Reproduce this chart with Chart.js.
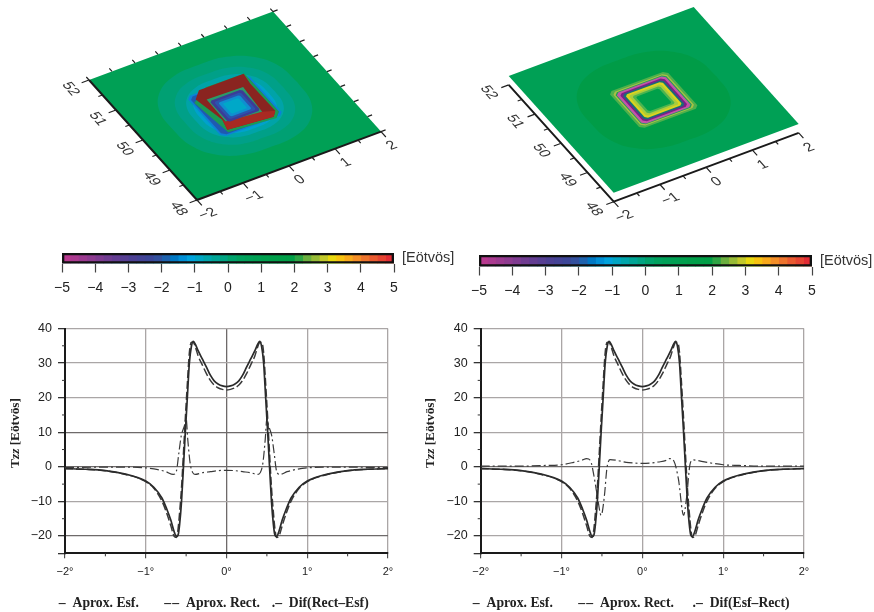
<!DOCTYPE html>
<html>
<head>
<meta charset="utf-8">
<style>
  html, body { margin: 0; padding: 0; background: #fff; }
  body { position: relative; width: 874px; height: 612px; overflow: hidden; }
  .box { position: absolute; }
  .box canvas { filter: blur(0.45px); }
</style>
<script src="https://cdn.jsdelivr.net/npm/chart.js@4"></script>
</head>
<body>
<div class="box" style="left:0;top:0;width:437px;height:240px"><canvas id="surfaceLeft"></canvas></div>
<div class="box" style="left:437px;top:0;width:437px;height:240px"><canvas id="surfaceRight"></canvas></div>
<div class="box" style="left:0;top:240px;width:470px;height:60px"><canvas id="barLeft"></canvas></div>
<div class="box" style="left:437px;top:243px;width:437px;height:60px"><canvas id="barRight"></canvas></div>
<div class="box" style="left:0;top:315px;width:430px;height:297px"><canvas id="lineLeft"></canvas></div>
<div class="box" style="left:416px;top:315px;width:458px;height:297px"><canvas id="lineRight"></canvas></div>
<script>
// profile curves
const profileLon = [-2, -1.75, -1.5, -1.25, -1.1, -1, -0.9, -0.8, -0.74, -0.69, -0.65, -0.62, -0.6, -0.58, -0.557, -0.533, -0.51, -0.485, -0.46, -0.435, -0.41, -0.385, -0.35, -0.3, -0.25, -0.2, -0.15, -0.1, -0.05, 0,
  0.05, 0.1, 0.15, 0.2, 0.25, 0.3, 0.35, 0.385, 0.41, 0.435, 0.46, 0.485, 0.51, 0.533, 0.557, 0.58, 0.6, 0.62, 0.65, 0.69, 0.74, 0.8, 0.9, 1, 1.1, 1.25, 1.5, 1.75, 2];
const aproxEsf = [-0.5, -0.7, -1.1, -2.1, -3.1, -4.1, -5.9, -9, -12.2, -15.4, -18.6, -20.2, -19.8, -16.5, -10, 0, 10, 20, 30, 34.8, 36.3, 35.4, 33.5, 31.2, 28.9, 26.5, 24.8, 23.9, 23.4, 23.2,
  23.4, 23.9, 24.8, 26.5, 28.9, 31.2, 33.5, 35.4, 36.3, 34.8, 30, 20, 10, 0, -10, -16.5, -19.8, -20.2, -18.6, -15.4, -12.2, -9, -5.9, -4.1, -3.1, -2.1, -1.1, -0.7, -0.5];
const aproxRect = [-0.5, -0.7, -1.1, -2.2, -3.2, -4.3, -6.2, -9.9, -13.4, -17, -20, -20.4, -18, -13, -6, 4, 14, 24, 33, 36, 35.9, 34.6, 32, 29.5, 27, 25, 23.6, 22.8, 22.4, 22.2,
  22.4, 22.8, 23.6, 25, 27, 29.5, 32, 34.6, 35.9, 36, 33, 24, 14, 4, -6, -13, -18, -20.4, -20, -17, -13.4, -9.9, -6.2, -4.3, -3.2, -2.2, -1.1, -0.7, -0.5];
const difLeftLon = [-2, -1.5, -1.2, -1, -0.85, -0.75, -0.66, -0.62, -0.59, -0.56, -0.52, -0.5, -0.48, -0.45, -0.42, -0.39, -0.3, -0.2, -0.1, 0,
  0.1, 0.2, 0.3, 0.39, 0.42, 0.45, 0.48, 0.5, 0.52, 0.56, 0.59, 0.62, 0.66, 0.75, 0.85, 1, 1.2, 1.5, 2];
const difRectEsf = [-0.2, -0.1, -0.1, -0.3, -0.8, -1.4, -2.2, -1.2, 4, 9, 12, 14, 8, 1, -1.6, -2.2, -1.7, -1.4, -1.1, -1,
  -1.1, -1.4, -1.7, -2.2, -1.6, 1, 8, 14, 12, 9, 4, -1.2, -2.2, -1.4, -0.8, -0.3, -0.1, -0.1, -0.2];
const difRightLon = [-2, -1.5, -1.2, -1, -0.85, -0.75, -0.69, -0.64, -0.6, -0.56, -0.51, -0.47, -0.44, -0.42, -0.4, -0.3, -0.2, -0.1, 0,
  0.1, 0.2, 0.3, 0.34, 0.39, 0.446, 0.51, 0.55, 0.59, 0.63, 0.75, 1, 1.2, 1.5, 2];
const difEsfRect = [0.2, 0.2, 0.4, 0.6, 1.3, 1.9, 2.4, 1.7, -2.5, -8, -14, -8.5, -0.7, 1.5, 2.1, 1.8, 1.3, 1.1, 1,
  1.1, 1.4, 1.9, 2.4, 1.7, -3.5, -14, -8.3, 0.8, 2, 1.5, 0.6, 0.4, 0.2, 0.2];

const legendLeft = ['–  Aprox. Esf.    ', '–\u200a–  Aprox. Rect.', '.–  Dif(Rect–Esf)'];
const legendRight = ['–  Aprox. Esf.    ', '–\u200a–  Aprox. Rect.  ', '.–  Dif(Esf–Rect)'];

// colour scale
const scaleEdges = [-5, -4.75, -4.5, -4.25, -4, -3.75, -3.5, -3.25, -3, -2.75, -2.5, -2.25, -2, -1.75, -1.5, -1.25, -1, -0.75, -0.5, -0.25, 0, 0.25, 0.5, 0.75, 1, 1.25, 1.5, 1.75, 2, 2.25, 2.5, 2.75, 3, 3.25, 3.5, 3.75, 4, 4.25, 4.5, 4.75, 5];
const scaleColors = ['#b8398f', '#ab3a90', '#9c3a90', '#8e3b90', '#7f3b91', '#703c91', '#633d92', '#573f93', '#4c4094', '#444396', '#3c4698', '#33509e', '#1e62ae', '#0078c4', '#008fd6', '#00a3dc', '#00a6c4', '#00a6ac', '#00a596', '#00a482',
  '#00a36c', '#00a25e', '#00a158', '#00a053', '#00a04e', '#009f4a', '#009f48', '#009f46', '#2da544', '#6aaf3e', '#97bb36', '#c2c92a', '#e8d80e', '#f7c30f', '#f9a91a', '#f48e26', '#ee742d', '#ea5a30', '#e64432', '#e32c35'];

// plan view contours, half widths in degrees around the block centre
const contourShape = [[1, 0], [0.96, 0.42], [0.76, 0.76], [0.42, 0.96], [0, 1], [-0.42, 0.96], [-0.76, 0.76], [-0.96, 0.42], [-1, 0], [-0.96, -0.42], [-0.76, -0.76], [-0.42, -0.96], [0, -1], [0.42, -0.96], [0.76, -0.76], [0.96, -0.42], [1, 0]];
const squareShape = [[1, -0.88], [1, 0.88], [0.88, 1], [-0.88, 1], [-1, 0.88], [-1, -0.88], [-0.88, -1], [0.88, -1], [1, -0.88]];
const leftContourWidths = [1.36, 1.06, 0.86, 0.74];
const leftContourColors = ['#00a073', '#00a088', '#00a3a8', '#00a2cc'];
const leftHaloWidths = [0.67, 0.63];
const leftHaloColors = ['#0d82d6', '#1f5ab0'];
const leftInnerWidths = [0.35, 0.29, 0.23, 0.17];
const leftInnerColors = ['#3c3c96', '#2a54ae', '#0f8fd0', '#00a8c8'];
const rightContourWidths = [1.36];
const rightContourColors = ['#009c47'];
const rightRingWidths = [0.63, 0.58, 0.55, 0.53, 0.48, 0.44, 0.4, 0.35, 0.3, 0.25];
const rightRingColors = ['#4fb04c', '#a9c044', '#1c9e58', '#c354a8', '#7a1f88', '#176f74', '#dcd41e', '#a9cc3c', '#4cb450', '#00a04a'];

// block outline in degrees from the centre, with the wall heights folded in
const wallOutLon = [-0.36, 0.611, 0.573, 0.585, 0.47, -0.478, -0.412, -0.55, -0.36];
const wallOutLat = [0.723, 0.721, 0.407, -0.497, -0.632, -0.53, -0.232, 0.52, 0.723];
const wallFrontLon = [-0.384, 0.356, 0.585, 0.47, -0.478, -0.412, -0.384];
const wallFrontLat = [-0.305, -0.398, -0.497, -0.632, -0.53, -0.232, -0.305];
const holeLon = [-0.372, 0.407, 0.356, -0.384, -0.372];
const holeLat = [0.418, 0.393, -0.398, -0.305, 0.418];
const rimLon = [-0.62, -0.2, 0.63, 0.63, 0.5, -0.5, -0.62];
const rimLat = [0.45, 0.74, 0.72, -0.55, -0.69, -0.6, 0.45];

const lonTicks = [-2, -1.5, -1, -0.5, 0, 0.5, 1, 1.5, 2];
const latTicks = [48, 48.5, 49, 49.5, 50, 50.5, 51, 51.5, 52];
const lonLabels = ['−2', '−1', '0', '1', '2'];
const latLabels = ['48', '49', '50', '51', '52'];

const yTicksMinor = [35, 25, 15, 5, -5, -15];
const xTicksMinor = [-1.5, -0.5, 0.5, 1.5];

Chart.defaults.font.family = '"Liberation Sans", Arial, sans-serif';
Chart.defaults.animation = false;
Chart.defaults.events = [];
Chart.defaults.plugins.tooltip.enabled = false;

// oblique view of the map: canvas position of the corner (-2, 48) and of one degree along each axis
const leftView = { cornerX: 197, cornerY: 200, lonX: 46, lonY: -17.1, latX: -27, latY: -30, plateLift: 0, backTicks: true, latLabelLon: -2.4, latLabelLift: -2, lonLabelLift: -2 };
const rightView = { cornerX: 176.7, cornerY: 201.7, lonX: 46.25, lonY: -17.2, latX: -26.25, latY: -29.2, plateLift: 9, backTicks: false, latLabelLon: -2.43, latLabelLift: 0, lonLabelLift: -3 };

function project(view, lon, lat, lift) {
  return {
    x: view.cornerX + (lon + 2) * view.lonX + (lat - 48) * view.latX,
    y: view.cornerY + (lon + 2) * view.lonY + (lat - 48) * view.latY - (lift || 0)
  };
}

function shapeDataset(view, shape, width, color, smooth) {
  return {
    data: shape.map(p => project(view, p[0] * width, 50 + p[1] * width, view.plateLift)),
    showLine: true, fill: 'shape', backgroundColor: color, borderWidth: 0, pointRadius: 0, tension: smooth ? 0.4 : 0
  };
}

function outlineDataset(view, lons, lats, color) {
  return {
    data: lons.map((lon, i) => project(view, lon, 50 + lats[i], view.plateLift)),
    showLine: true, fill: 'shape', backgroundColor: color, borderWidth: 0, pointRadius: 0, tension: 0
  };
}

function tickDataset(view) {
  const pts = [];
  const gap = { x: NaN, y: NaN };
  latTicks.forEach(lat => {
    const long = lat % 1 === 0;
    pts.push(project(view, -2, lat), project(view, -2 - (long ? 0.16 : 0.09), lat), gap);
    if (view.backTicks) pts.push(project(view, 2, lat), project(view, 2.1, lat), gap);
  });
  lonTicks.forEach(lon => {
    const long = lon % 1 === 0;
    pts.push(project(view, lon, 48), project(view, lon, 48 - (long ? 0.18 : 0.1)), gap);
    if (view.backTicks) pts.push(project(view, lon, 52), project(view, lon, 52.1), gap);
  });
  return { data: pts, showLine: true, borderColor: '#222', borderWidth: 1.2, pointRadius: 0, fill: false, tension: 0 };
}

function axisDataset(view) {
  return {
    data: [project(view, -2, 52), project(view, -2, 48), project(view, 2, 48)],
    showLine: true, borderColor: '#1a1a1a', borderWidth: 2, pointRadius: 0, fill: false, tension: 0
  };
}

// numbers along the map edges, sheared the same way as the map
const edgeLabelPlugin = {
  id: 'edgeLabels',
  afterDraw(chart, args, opts) {
    const view = opts.view;
    const ctx = chart.ctx;
    const lonLen = Math.hypot(view.lonX, view.lonY);
    const latLen = Math.hypot(view.latX, view.latY);
    const ux = view.lonX / lonLen, uy = view.lonY / lonLen;
    const vx = -view.latX / latLen, vy = -view.latY / latLen;
    ctx.save();
    ctx.fillStyle = '#333';
    ctx.font = '14.5px "Liberation Sans"';
    ctx.textAlign = 'center';
    ctx.textBaseline = 'middle';
    latLabels.forEach((text, i) => {
      const p = project(view, view.latLabelLon, 48 + i, view.latLabelLift);
      ctx.setTransform(vx, vy, -ux, -uy, p.x, p.y);
      ctx.fillText(text, 0, 0);
    });
    lonLabels.forEach((text, i) => {
      const p = project(view, -2 + i, 47.6, view.lonLabelLift);
      ctx.setTransform(ux, uy, vx, vy, p.x, p.y);
      ctx.fillText(text, 0, 0);
    });
    ctx.restore();
  }
};

function surfaceChart(id, view, layers) {
  // first dataset is drawn last, so hand them over back to front with a falling order
  layers.forEach((d, i) => { d.order = layers.length - i; d.clip = false; });
  new Chart(document.getElementById(id), {
    type: 'scatter',
    data: { datasets: layers },
    plugins: [edgeLabelPlugin],
    options: {
      responsive: true,
      maintainAspectRatio: false,
      layout: { padding: 0 },
      scales: {
        x: { type: 'linear', display: false, min: 0, max: 437 },
        y: { type: 'linear', display: false, min: 0, max: 240, reverse: true }
      },
      plugins: { legend: { display: false }, edgeLabels: { view: view } }
    }
  });
}

function plateDataset(view) {
  const lift = view.plateLift;
  return {
    data: [project(view, -2, 48, lift), project(view, 2, 48, lift), project(view, 2, 52, lift), project(view, -2, 52, lift), project(view, -2, 48, lift)],
    showLine: true, fill: 'shape', backgroundColor: '#00a055', borderWidth: 0, pointRadius: 0, tension: 0
  };
}

surfaceChart('surfaceLeft', leftView, [
  plateDataset(leftView),
  ...leftContourWidths.map((w, i) => shapeDataset(leftView, contourShape, w, leftContourColors[i], true)),
  ...leftHaloWidths.map((w, i) => shapeDataset(leftView, squareShape, w, leftHaloColors[i], false)),
  outlineDataset(leftView, rimLon, rimLat, '#1b9a55'),
  outlineDataset(leftView, wallOutLon, wallOutLat, '#8a2420'),
  outlineDataset(leftView, wallFrontLon, wallFrontLat, '#a82a22'),
  outlineDataset(leftView, holeLon, holeLat, '#2c9a68'),
  ...leftInnerWidths.map((w, i) => shapeDataset(leftView, squareShape, w, leftInnerColors[i], false)),
  axisDataset(leftView),
  tickDataset(leftView)
]);

surfaceChart('surfaceRight', rightView, [
  plateDataset(rightView),
  ...rightContourWidths.map((w, i) => shapeDataset(rightView, contourShape, w, rightContourColors[i], true)),
  ...rightRingWidths.map((w, i) => shapeDataset(rightView, squareShape, w, rightRingColors[i], false)),
  axisDataset(rightView),
  tickDataset(rightView)
]);

// colour scale built as floating bars
function colorBar(id, leftPad, topPad, axisWidth) {
  const bar = { grouped: false, barPercentage: 1, categoryPercentage: 1 };
  const datasets = [{
    ...bar, data: [[-5, 5]], backgroundColor: 'transparent', borderColor: '#111', borderWidth: 2, borderSkipped: false
  }];
  scaleColors.forEach((color, i) => {
    datasets.push({ ...bar, data: [[scaleEdges[i], scaleEdges[i + 1]]], backgroundColor: color, borderWidth: 0 });
  });
  // backing bar so no white shows through where two cells meet on a half pixel
  datasets.push({ ...bar, data: [[-5, 5]], backgroundColor: '#00a158', borderWidth: 0 });
  new Chart(document.getElementById(id), {
    type: 'bar',
    data: { labels: ['[Eötvös]'], datasets },
    options: {
      indexAxis: 'y',
      responsive: true,
      maintainAspectRatio: false,
      layout: { padding: { left: leftPad, top: topPad } },
      scales: {
        x: {
          type: 'linear', min: -5, max: 5,
          ticks: {
            stepSize: 1, autoSkip: false, maxRotation: 0, color: '#222', padding: 7, font: { size: 14 },
            callback: v => String(v).replace('-', '−')
          },
          grid: { drawOnChartArea: false, tickLength: 9, tickColor: '#444', tickWidth: 1.2 },
          border: { display: false },
          afterFit: s => { s.height = 36.5; }
        },
        y: {
          position: 'right',
          ticks: { color: '#333', padding: 8, font: { size: 14.5 } },
          grid: { display: false, drawTicks: false },
          border: { display: false },
          // the label is taller than the bar, it must not squeeze the plot area
          afterFit: s => { s.width = axisWidth; s.paddingTop = 0; s.paddingBottom = 0; }
        }
      },
      plugins: { legend: { display: false } }
    }
  });
}
colorBar('barLeft', 62, 13, 76);
colorBar('barRight', 42, 12, 62);

// short ticks without a gridline, the y title with its italic part, and the legend moved to its spot
const profileExtras = {
  id: 'profileExtras',
  afterLayout(chart, args, opts) {
    chart.legend.left = opts.legendX;
    chart.legend.top += opts.legendDrop;
  },
  afterDraw(chart, args, opts) {
    const { ctx, chartArea, scales } = chart;
    ctx.save();
    ctx.strokeStyle = '#333';
    ctx.lineWidth = 1;
    ctx.beginPath();
    yTicksMinor.forEach(v => {
      const y = scales.y.getPixelForValue(v);
      ctx.moveTo(chartArea.left - 3, y);
      ctx.lineTo(chartArea.left, y);
    });
    xTicksMinor.forEach(v => {
      const x = scales.x.getPixelForValue(v);
      ctx.moveTo(x, chartArea.bottom);
      ctx.lineTo(x, chartArea.bottom + 3);
    });
    ctx.stroke();

    const upright = 'bold 13.3px "Liberation Serif"';
    const slanted = 'italic bold 13.3px "Liberation Serif"';
    const runs = [['T', upright], ['zz', slanted], [' [Eötvös]', upright]];
    ctx.translate(opts.titleX, 118);
    ctx.rotate(-Math.PI / 2);
    ctx.fillStyle = '#222';
    ctx.textBaseline = 'middle';
    ctx.textAlign = 'left';
    let total = 0;
    runs.forEach(r => { ctx.font = r[1]; total += ctx.measureText(r[0]).width; });
    let at = -total / 2;
    runs.forEach(r => {
      ctx.font = r[1];
      ctx.fillText(r[0], at, 0);
      at += ctx.measureText(r[0]).width;
    });
    ctx.restore();
  }
};

function profileChart(id, difLon, difValues, legendItems, yWidth, rightPad, darkY, darkX, legendX, titleX) {
  const toPoints = (xs, ys) => xs.map((x, i) => ({ x: x, y: ys[i] }));
  new Chart(document.getElementById(id), {
    type: 'scatter',
    data: {
      datasets: [
        { label: legendItems[0], data: toPoints(profileLon, aproxEsf), showLine: true, borderColor: '#2b2b2b', borderWidth: 1.7, pointRadius: 0, cubicInterpolationMode: 'monotone' },
        { label: legendItems[1], data: toPoints(profileLon, aproxRect), showLine: true, borderColor: '#3a3a3a', borderWidth: 1.5, borderDash: [8, 3], pointRadius: 0, cubicInterpolationMode: 'monotone' },
        { label: legendItems[2], data: toPoints(difLon, difValues), showLine: true, borderColor: '#3a3a3a', borderWidth: 1.2, borderDash: [9, 3, 2, 3], pointRadius: 0, cubicInterpolationMode: 'monotone' }
      ]
    },
    plugins: [profileExtras],
    options: {
      responsive: true,
      maintainAspectRatio: false,
      layout: { padding: { top: 13, right: rightPad } },
      scales: {
        x: {
          type: 'linear', min: -2, max: 2,
          ticks: {
            stepSize: 1, autoSkip: false, maxRotation: 0, color: '#222', padding: 7, font: { size: 11 },
            callback: v => String(v).replace('-', '−') + '°'
          },
          grid: {
            tickLength: 5, tickColor: '#333', tickWidth: 1,
            color: c => (darkX.includes(c.tick.value) ? '#6e6a6a' : '#aaa6a6'), lineWidth: 1.3
          },
          border: { color: '#1a1a1a', width: 2 },
          afterFit: s => { s.height = 30; }
        },
        y: {
          type: 'linear', min: -25, max: 40,
          ticks: {
            stepSize: 5, autoSkip: false, color: '#222', padding: 6, font: { size: 12.5 },
            callback: v => (v % 10 === 0 ? String(v).replace('-', '−') : '')
          },
          grid: {
            tickLength: 7,
            tickColor: c => ((c.tick.value % 10 === 0 || c.tick.value === -25) ? '#333' : 'transparent'),
            color: c => {
              if (c.tick.value % 10 !== 0) return 'transparent';
              return darkY.includes(c.tick.value) ? '#6e6a6a' : '#aaa6a6';
            },
            lineWidth: 1.3
          },
          border: { color: '#1a1a1a', width: 2 },
          afterFit: s => { s.width = yWidth; }
        }
      },
      plugins: {
        profileExtras: { legendX: legendX, legendDrop: 8, titleX: titleX },
        legend: {
          position: 'bottom',
          align: 'start',
          labels: {
            boxWidth: 0, padding: 5, color: '#222',
            font: { family: '"Liberation Serif"', weight: 'bold', size: 13.7 },
            generateLabels: ch => ch.data.datasets.map((d, i) => ({
              text: d.label, fillStyle: 'transparent', strokeStyle: 'transparent', lineWidth: 0, hidden: false, datasetIndex: i, fontColor: '#222'
            }))
          }
        }
      }
    }
  });
}
profileChart('lineLeft', difLeftLon, difRectEsf, legendLeft, 65, 42, [10, 0, -20], [0], 47, 16);
profileChart('lineRight', difRightLon, difEsfRect, legendRight, 64.7, 70, [0], [], 45, 15);
</script>
</body>
</html>
